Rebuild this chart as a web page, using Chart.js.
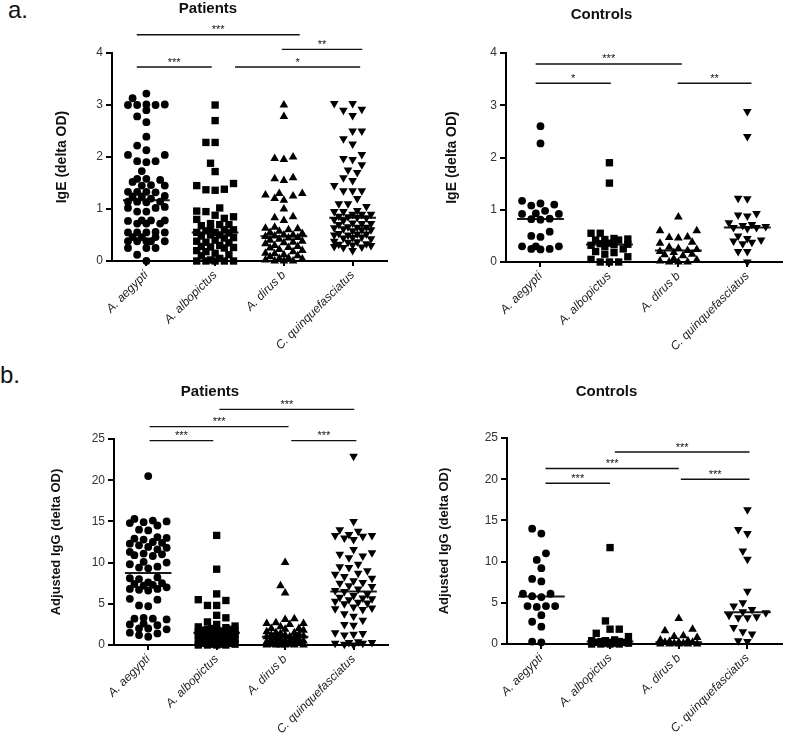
<!DOCTYPE html>
<html>
<head>
<meta charset="utf-8">
<script src="https://cdn.jsdelivr.net/npm/chart.js@4.4.1/dist/chart.umd.min.js"></script>
<style>
  body { margin: 0; background: #fff; }
  #wrap { position: relative; width: 787px; height: 741px; overflow: hidden; }
  canvas { position: absolute; }
  .tag { position: absolute; font: 24px "Liberation Sans", Arial, sans-serif; color: #111; line-height: 24px; }
</style>
</head>
<body>
<div id="wrap">
  <div class="tag" style="left:8px;top:-2px">a.</div>
  <div class="tag" style="left:0px;top:363px">b.</div>
  <canvas id="c1" width="393" height="370" style="left:0;top:0"></canvas>
  <canvas id="c2" width="387" height="370" style="left:400px;top:0"></canvas>
  <canvas id="c3" width="393" height="371" style="left:0;top:370px"></canvas>
  <canvas id="c4" width="387" height="371" style="left:400px;top:370px"></canvas>
</div>
<script>
// categories
const categories = ['A. aegypti', 'A. albopictus', 'A. dirus b', 'C. quinquefasciatus'];

// a. IgE, patients
const igePatAegypti = [3.22,3.13,3.01,3.01,3.0,3.0,3.0,2.9,2.78,2.67,2.39,2.22,2.13,2.04,2.04,1.92,1.92,1.9,1.73,1.58,1.58,1.56,1.52,1.46,1.45,1.45,1.33,1.33,1.32,1.33,1.24,1.24,1.25,1.2,1.14,1.14,1.13,1.14,1.02,1.04,1.02,0.95,0.95,0.78,0.77,0.78,0.78,0.72,0.72,0.72,0.55,0.55,0.56,0.55,0.55,0.46,0.46,0.46,0.38,0.38,0.38,0.38,0.38,0.25,0.25,0.25,0.12,0.0];
const igePatAlbopictus = [3.0,2.7,2.28,2.28,1.88,1.72,1.49,1.45,1.38,1.36,1.37,1.02,0.95,0.96,0.88,0.85,0.82,0.8,0.72,0.7,0.7,0.68,0.62,0.6,0.6,0.58,0.55,0.55,0.54,0.5,0.5,0.48,0.45,0.44,0.4,0.38,0.36,0.35,0.3,0.28,0.27,0.26,0.25,0.2,0.18,0.15,0.12,0.1,0.05,0.02,0.0,0.0,0.0,0.0,0.0];
const igePatDirus = [3.0,2.78,2.0,1.95,1.97,1.6,1.55,1.58,1.3,1.27,1.25,1.2,1.3,1.17,1.0,0.85,0.83,0.78,0.65,0.63,0.62,0.6,0.57,0.55,0.53,0.5,0.5,0.48,0.47,0.45,0.44,0.42,0.4,0.38,0.36,0.35,0.33,0.3,0.28,0.26,0.25,0.22,0.2,0.18,0.15,0.14,0.12,0.1,0.08,0.06,0.05,0.04,0.02,0.0,0.0,0.0];
const igePatQuinque = [3.03,3.03,2.92,2.9,2.8,2.5,2.5,2.35,2.25,2.05,1.97,1.95,1.85,1.75,1.7,1.6,1.55,1.45,1.35,1.35,1.35,1.2,1.1,1.1,1.05,0.97,0.95,0.95,0.9,0.9,0.9,0.86,0.85,0.84,0.83,0.8,0.78,0.73,0.72,0.72,0.7,0.66,0.65,0.65,0.64,0.62,0.6,0.6,0.58,0.53,0.52,0.52,0.5,0.5,0.46,0.45,0.44,0.43,0.38,0.37,0.36,0.33,0.32,0.31,0.3,0.28,0.27,0.26,0.2];

// a. IgE, controls
const igeCtlAegypti = [2.6,2.27,1.17,1.08,1.1,1.12,0.98,0.93,0.92,0.92,0.83,0.82,0.81,0.58,0.5,0.48,0.3,0.3,0.3,0.25,0.25,0.24];
const igeCtlAlbopictus = [1.9,1.51,0.55,0.55,0.45,0.44,0.43,0.42,0.42,0.36,0.35,0.34,0.33,0.32,0.3,0.25,0.2,0.18,0.15,0.1,0.05,0.0,0.0,0.0];
const igeCtlDirus = [0.86,0.6,0.6,0.48,0.47,0.46,0.38,0.36,0.28,0.26,0.24,0.22,0.2,0.18,0.15,0.14,0.12,0.06,0.04,0.02,0.0,0.0,0.0];
const igeCtlQuinque = [2.88,2.4,1.22,1.21,0.93,0.9,0.88,0.75,0.72,0.7,0.68,0.66,0.66,0.64,0.5,0.45,0.42,0.4,0.38,0.35,0.2,0.2,0.0];

// b. adjusted IgG, patients
const iggPatAegypti = [20.5,15.3,15.1,15.0,14.8,14.9,14.5,14.0,13.9,13.0,12.9,12.8,13.1,12.5,12.3,12.4,12.1,11.9,11.8,11.6,11.3,11.1,11.0,10.8,10.9,10.1,10.0,9.8,9.5,9.4,9.3,8.2,8.1,8.0,7.6,7.5,7.4,7.3,7.2,7.0,6.8,6.8,6.7,6.6,5.6,5.5,4.8,4.7,3.3,3.2,3.2,3.1,2.6,2.5,2.4,2.0,2.0,1.9,1.5,1.4,1.2,1.0];
const iggPatAlbopictus = [13.3,9.2,6.2,5.5,5.4,4.8,4.8,3.6,3.3,2.8,2.5,2.3,2.2,2.1,2.0,1.9,1.9,1.8,1.8,1.7,1.7,1.6,1.6,1.6,1.5,1.5,1.5,1.4,1.4,1.3,1.2,1.2,1.1,1.0,0.9,0.8,0.8,0.7,0.6,0.5,0.5,0.4,0.3,0.3,0.2,0.2,0.1,0.1,0.1,0.0,0.0,0.0,0.0];
const iggPatDirus = [10.0,7.2,6.3,3.2,3.1,2.7,2.6,2.6,2.5,2.2,2.0,2.0,1.9,1.8,1.6,1.5,1.5,1.4,1.3,1.2,1.2,1.1,1.0,1.0,0.9,0.9,0.8,0.7,0.6,0.6,0.5,0.5,0.4,0.4,0.3,0.3,0.2,0.2,0.1,0.1,0.0,0.0,0.0,0.0,0.0,0.0];
const iggPatQuinque = [22.9,15.0,14.0,13.8,13.4,13.3,13.3,13.2,13.0,12.8,11.6,11.2,11.0,10.8,10.6,9.8,9.5,9.4,9.0,8.7,8.6,8.3,8.1,7.8,7.6,7.5,7.2,7.1,6.8,6.6,6.5,6.2,6.0,5.8,5.7,5.6,5.5,5.3,5.2,5.1,5.0,4.6,4.5,4.4,4.3,3.8,3.5,3.0,2.5,2.4,1.5,1.4,1.3,1.2,0.4,0.3,0.3,0.2,0.2,0.1,0.0];

// b. adjusted IgG, controls
const iggCtlAegypti = [14.0,13.4,11.0,10.2,9.2,7.9,7.6,6.1,6.1,5.8,5.7,4.6,4.6,4.5,4.6,3.5,2.7,2.1,0.2,0.3];
const iggCtlAlbopictus = [11.7,2.8,1.8,1.8,1.3,0.9,0.5,0.4,0.4,0.3,0.3,0.2,0.2,0.2,0.1,0.1,0.1,0.0,0.0,0.0,0.0];
const iggCtlDirus = [3.1,1.8,1.6,1.0,0.9,0.8,0.5,0.4,0.3,0.2,0.2,0.2,0.1,0.1,0.0,0.0,0.0,0.0,0.0];
const iggCtlQuinque = [16.3,13.9,13.4,11.3,10.3,6.4,5.0,4.6,4.2,3.9,3.8,3.5,3.3,3.2,3.2,2.0,1.5,1.2,0.4,0.3];

// y tick labels
const igeTicks = [0, 1, 2, 3, 4];
const iggTicks = [0, 5, 10, 15, 20, 25];

// significance bars: [from group, to group, level, stars]
const sigIgePatients = [[0.86, 3.23, 4.35, '***'], [2.97, 4.14, 4.07, '**'], [0.86, 1.95, 3.73, '***'], [2.29, 4.11, 3.73, '*']];
const sigIgeControls = [[0.93, 3.05, 3.79, '***'], [0.93, 2.02, 3.42, '*'], [2.99, 4.06, 3.42, '**']];
const sigIggPatients = [[2.04, 4.01, 28.6, '***'], [1.02, 3.05, 26.5, '***'], [1.02, 1.95, 24.8, '***'], [3.09, 4.04, 24.8, '***']];
const sigIggControls = [[2.07, 4.03, 23.3, '***'], [1.06, 3.0, 21.3, '***'], [1.06, 2.0, 19.5, '***'], [3.03, 4.03, 20.0, '***']];

const FONT = '"Liberation Sans", Arial, Helvetica, sans-serif';
const markers = [
  { style: 'circle', radius: 3.9, rotation: 0 },
  { style: 'rect', radius: 5.2, rotation: 0 },
  { style: 'triangle', radius: 5, rotation: 0 },
  { style: 'triangle', radius: 5, rotation: 180 }
];

function median(arr) {
  const s = [...arr].sort((a, b) => a - b);
  const n = s.length;
  return n % 2 ? s[(n - 1) / 2] : (s[n / 2 - 1] + s[n / 2]) / 2;
}

// simple beeswarm: spread points sideways so they don't overlap
function swarm(values, group, xs, ys) {
  const d = 8.6, half = 4.6, maxK = 4;
  const cands = [0];
  for (let k = 1; k <= maxK; k++) cands.push(-k * half, k * half);
  const cx = xs.getPixelForValue(group);
  const order = values.map((v, i) => i).sort((a, b) => values[a] - values[b]);
  const placed = [];
  const out = new Array(values.length);
  for (const i of order) {
    const py = ys.getPixelForValue(values[i]);
    let best = 0, bestScore = -1;
    for (const off of cands) {
      let minD = Infinity;
      for (const p of placed) {
        const dd = Math.hypot(p.x - off, p.y - py);
        if (dd < minD) minD = dd;
      }
      if (minD >= d) { best = off; break; }
      if (minD > bestScore) { bestScore = minD; best = off; }
    }
    placed.push({ x: best, y: py });
    out[i] = { x: xs.getValueForPixel(cx + best), y: values[i] };
  }
  return out;
}

const sigBars = {
  id: 'sigBars',
  afterDraw(chart, args, opts) {
    const { ctx } = chart;
    const xs = chart.scales.x, ys = chart.scales.y;
    ctx.save();
    ctx.strokeStyle = '#111';
    ctx.fillStyle = '#111';
    ctx.lineWidth = 1.4;
    ctx.font = '11px ' + FONT;
    ctx.textAlign = 'center';
    ctx.textBaseline = 'alphabetic';
    (opts.bars || []).forEach(([a, b, lvl, txt]) => {
      const x1 = xs.getPixelForValue(a), x2 = xs.getPixelForValue(b);
      const y = ys.getPixelForValue(lvl);
      ctx.beginPath();
      ctx.moveTo(x1, y);
      ctx.lineTo(x2, y);
      ctx.stroke();
      ctx.fillText(txt, (x1 + x2) / 2, y - 1.5);
    });
    ctx.restore();
  }
};

function makePanel(id, title, yLabel, yTickVals, groups, bars, lay) {
  const datasets = [];
  groups.forEach((vals, g) => {
    const m = markers[g];
    datasets.push({
      data: vals.map(v => ({ x: g + 1, y: v })),
      pointStyle: m.style,
      pointRadius: m.radius,
      pointRotation: m.rotation,
      backgroundColor: '#000',
      borderWidth: 0,
      pointHoverRadius: m.radius,
      clip: false
    });
  });
  groups.forEach((vals, g) => {
    const med = median(vals);
    datasets.push({
      data: [{ x: g + 1 - 0.34, y: med }, { x: g + 1 + 0.34, y: med }],
      showLine: true,
      borderColor: '#1a1a1a',
      borderWidth: 2,
      pointRadius: 0,
      clip: false
    });
  });

  const chart = new Chart(document.getElementById(id), {
    type: 'scatter',
    data: { datasets },
    plugins: [sigBars],
    options: {
      responsive: false,
      animation: false,
      events: [],
      layout: { padding: { left: lay.padL, right: lay.padR, top: 0, bottom: 0 } },
      plugins: {
        legend: { display: false },
        tooltip: { enabled: false },
        title: {
          display: true,
          text: title,
          color: '#111',
          font: { family: FONT, size: 15, weight: 'bold' },
          padding: { top: lay.tTop, bottom: lay.tBot }
        },
        sigBars: { bars }
      },
      scales: {
        x: {
          type: 'linear',
          min: 0.5,
          max: 4.5,
          afterBuildTicks: s => { s.ticks = categories.map((c, i) => ({ value: i + 1 })); },
          afterFit: s => { s.height = lay.xH; },
          ticks: {
            autoSkip: false,
            minRotation: 45,
            maxRotation: 45,
            padding: 2,
            color: '#222',
            font: { family: FONT, size: 12, style: 'italic' },
            callback: v => categories[Math.round(v) - 1]
          },
          grid: { display: true, drawOnChartArea: false, drawTicks: true, tickLength: 5, color: '#000', lineWidth: 2 },
          border: { display: true, color: '#000', width: 2 }
        },
        y: {
          min: yTickVals[0],
          max: yTickVals[yTickVals.length - 1],
          afterBuildTicks: s => { s.ticks = yTickVals.map(v => ({ value: v })); },
          afterFit: s => { s.width = lay.yW; },
          ticks: {
            padding: 3,
            color: '#333',
            font: { family: FONT, size: 12 }
          },
          title: {
            display: true,
            text: yLabel,
            color: '#111',
            font: { family: FONT, size: lay.ySize, weight: 'bold' },
            padding: { top: lay.yPad, bottom: 0 }
          },
          grid: { display: true, drawOnChartArea: false, drawTicks: true, tickLength: 6, color: '#000', lineWidth: 2 },
          border: { display: true, color: '#000', width: 2 }
        }
      }
    }
  });

  // spread the points of each group, then redraw
  groups.forEach((vals, g) => {
    chart.data.datasets[g].data = swarm(vals, g + 1, chart.scales.x, chart.scales.y);
  });
  chart.update('none');
  return chart;
}

makePanel('c1', 'Patients', 'IgE (delta OD)', igeTicks,
  [igePatAegypti, igePatAlbopictus, igePatDirus, igePatQuinque], sigIgePatients,
  { padL: 29, padR: 6, yW: 83, xH: 109, tTop: 0, tBot: 35, ySize: 14, yPad: 24.6 });

makePanel('c2', 'Controls', 'IgE (delta OD)', igeTicks,
  [igeCtlAegypti, igeCtlAlbopictus, igeCtlDirus, igeCtlQuinque], sigIgeControls,
  { padL: 21, padR: 5, yW: 85, xH: 108, tTop: 6, tBot: 29, ySize: 14, yPad: 22.6 });

makePanel('c3', 'Patients', 'Adjusted IgG (delta OD)', iggTicks,
  [iggPatAegypti, iggPatAlbopictus, iggPatDirus, iggPatQuinque], sigIggPatients,
  { padL: 30, padR: 3, yW: 84, xH: 96, tTop: 13, tBot: 38, ySize: 13, yPad: 18.2 });

makePanel('c4', 'Controls', 'Adjusted IgG (delta OD)', iggTicks,
  [iggCtlAegypti, iggCtlAlbopictus, iggCtlDirus, iggCtlQuinque], sigIggControls,
  { padL: 28, padR: 2, yW: 79, xH: 97, tTop: 13, tBot: 37, ySize: 13, yPad: 8.2 });
</script>
</body>
</html>
